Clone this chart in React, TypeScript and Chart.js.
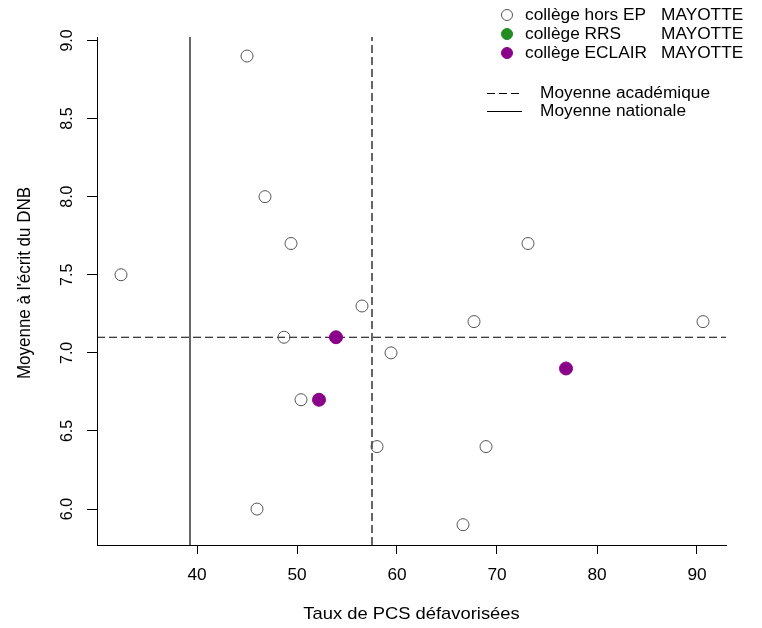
import React, { useEffect, useRef } from "react";
import { Chart, registerables } from "chart.js";

Chart.register(...registerables);

// ---- data ----
const horsEpX = [45.0, 46.8, 49.4, 32.4, 56.5, 48.7, 50.4, 59.4, 67.7, 73.1, 90.6, 58.0, 68.9, 46.0, 66.6];
const horsEpY = [8.9, 8.0, 7.7, 7.5, 7.3, 7.1, 6.7, 7.0, 7.2, 7.7, 7.2, 6.4, 6.4, 6.0, 5.9];
const rrsX: number[] = [];
const rrsY: number[] = [];
const eclairX = [53.9, 52.2, 76.9];
const eclairY = [7.1, 6.7, 6.9];
const moyAcademique = { x: 57.5, y: 7.1 };
const moyNationaleX = 39.3;
const xTicks = [40, 50, 60, 70, 80, 90];
const yTicks = [6.0, 6.5, 7.0, 7.5, 8.0, 8.5, 9.0];
const xRange = [30, 92.9];
const yRange = [5.77, 9.022];
const legendLabels = ["collège hors EP", "collège RRS", "collège ECLAIR"];
const legendRegion = "MAYOTTE";
const lineLegendLabels = ["Moyenne académique", "Moyenne nationale"];
const xTitle = "Taux de PCS défavorisées";
const yTitle = "Moyenne à l'écrit du DNB";

const FONT = '"Liberation Sans", Arial, Helvetica, sans-serif';
const GRAY = "#555555";
const GREEN = "#228B22";
const PURPLE = "#8B008B";
const STRETCH = 1.08;

const zip = (xs: number[], ys: number[]) => xs.map((x, i) => ({ x, y: ys[i] }));

function drawText(
  ctx: CanvasRenderingContext2D,
  text: string,
  x: number,
  y: number,
  align: CanvasTextAlign,
  rotate = false
) {
  ctx.save();
  ctx.translate(x, y);
  ctx.scale(STRETCH, 1);
  if (rotate) ctx.rotate(-Math.PI / 2);
  ctx.textAlign = align;
  ctx.textBaseline = "middle";
  ctx.fillText(text, 0, 0);
  ctx.restore();
}

const decorPlugin = {
  id: "rDecor",
  afterDraw(chart: any) {
    const ctx: CanvasRenderingContext2D = chart.ctx;
    const ys = chart.scales.y;
    const xs = chart.scales.x;
    const area = chart.chartArea;
    ctx.save();
    ctx.fillStyle = "#000";
    ctx.font = `16px ${FONT}`;
    for (const t of ys.ticks) {
      drawText(ctx, Number(t.value).toFixed(1), 67.5, ys.getPixelForValue(t.value), "center", true);
    }
    for (const t of xs.ticks) {
      drawText(ctx, String(t.value), xs.getPixelForValue(t.value), 575.5, "center");
    }
    ctx.font = `17px ${FONT}`;
    drawText(ctx, yTitle, 25, (area.top + area.bottom) / 2 - 8, "center", true);
    drawText(ctx, xTitle, (area.left + area.right) / 2, 614, "center");

    // legend
    ctx.font = `16px ${FONT}`;
    const rowsY = [15, 34, 53];
    const styles = [
      { fill: null, stroke: GRAY },
      { fill: GREEN, stroke: GREEN },
      { fill: PURPLE, stroke: PURPLE },
    ];
    legendLabels.forEach((lab, i) => {
      const y = rowsY[i];
      ctx.beginPath();
      ctx.arc(507, y, 5.5, 0, Math.PI * 2);
      if (styles[i].fill) {
        ctx.fillStyle = styles[i].fill as string;
        ctx.fill();
      }
      ctx.strokeStyle = styles[i].stroke;
      ctx.lineWidth = 1;
      ctx.stroke();
      ctx.fillStyle = "#000";
      drawText(ctx, lab, 525, y + 1, "left");
      drawText(ctx, legendRegion, 661, y + 1, "left");
    });
    const lineY = [93, 111];
    lineLegendLabels.forEach((lab, i) => {
      const y = lineY[i];
      ctx.beginPath();
      ctx.setLineDash(i === 0 ? [8, 4] : []);
      ctx.strokeStyle = "#000";
      ctx.lineWidth = 1;
      ctx.moveTo(487, y + 0.5);
      ctx.lineTo(522, y + 0.5);
      ctx.stroke();
      ctx.setLineDash([]);
      drawText(ctx, lab, 540, y + 1, "left");
    });
    ctx.restore();
  },
};

export default function App() {
  const ref = useRef<HTMLCanvasElement | null>(null);
  useEffect(() => {
    if (!ref.current) return;
    const refLine = (pts: { x: number; y: number }[], dashed: boolean) =>
      ({
        type: "line",
        data: pts,
        borderColor: "#000",
        borderWidth: 1.2,
        borderDash: dashed ? [8, 4] : [],
        pointRadius: 0,
        fill: false,
        order: 3,
      } as any);
    const chart = new Chart(ref.current, {
      type: "scatter",
      data: {
        datasets: [
          refLine(
            [
              { x: xRange[0], y: moyAcademique.y },
              { x: xRange[1], y: moyAcademique.y },
            ],
            true
          ),
          refLine(
            [
              { x: moyAcademique.x, y: yRange[0] },
              { x: moyAcademique.x, y: yRange[1] },
            ],
            true
          ),
          refLine(
            [
              { x: moyNationaleX, y: yRange[0] },
              { x: moyNationaleX, y: yRange[1] },
            ],
            false
          ),
          {
            label: legendLabels[0],
            data: zip(horsEpX, horsEpY),
            pointRadius: 6,
            pointBackgroundColor: "rgba(255,255,255,0)",
            pointBorderColor: GRAY,
            pointBorderWidth: 1,
            order: 1,
          },
          {
            label: legendLabels[1],
            data: zip(rrsX, rrsY),
            pointRadius: 6,
            pointBackgroundColor: GREEN,
            pointBorderColor: GREEN,
            order: 1,
          },
          {
            label: legendLabels[2],
            data: zip(eclairX, eclairY),
            pointRadius: 6.5,
            pointBackgroundColor: PURPLE,
            pointBorderColor: PURPLE,
            pointBorderWidth: 1,
            order: 1,
          },
        ],
      },
      options: {
        animation: false,
        responsive: false,
        devicePixelRatio: 1,
        layout: { padding: { left: 0, right: 36, top: 37, bottom: 0 } },
        plugins: { legend: { display: false }, tooltip: { enabled: false } },
        scales: {
          x: {
            type: "linear",
            min: xRange[0],
            max: xRange[1],
            afterBuildTicks: (s: any) => {
              s.ticks = xTicks.map((v) => ({ value: v }));
            },
            afterFit: (s: any) => {
              s.height = 83;
            },
            grid: {
              display: true,
              drawOnChartArea: false,
              drawTicks: true,
              tickLength: 9,
              tickColor: "#000",
              tickWidth: 1,
            },
            border: { display: true, color: "#000", width: 1 },
            ticks: { display: false, autoSkip: false },
          },
          y: {
            type: "linear",
            min: yRange[0],
            max: yRange[1],
            afterBuildTicks: (s: any) => {
              s.ticks = yTicks.map((v) => ({ value: v }));
            },
            afterFit: (s: any) => {
              s.width = 97;
            },
            grid: {
              display: true,
              drawOnChartArea: false,
              drawTicks: true,
              tickLength: 10,
              tickColor: "#000",
              tickWidth: 1,
            },
            border: { display: true, color: "#000", width: 1 },
            ticks: { display: false, autoSkip: false },
          },
        },
      },
      plugins: [decorPlugin],
    } as any);
    return () => chart.destroy();
  }, []);
  return (
    <div style={{ position: "absolute", left: 0, top: 0, width: 762, height: 628, background: "#fff" }}>
      <canvas ref={ref} width={762} height={628} style={{ width: 762, height: 628, display: "block" }} />
    </div>
  );
}
